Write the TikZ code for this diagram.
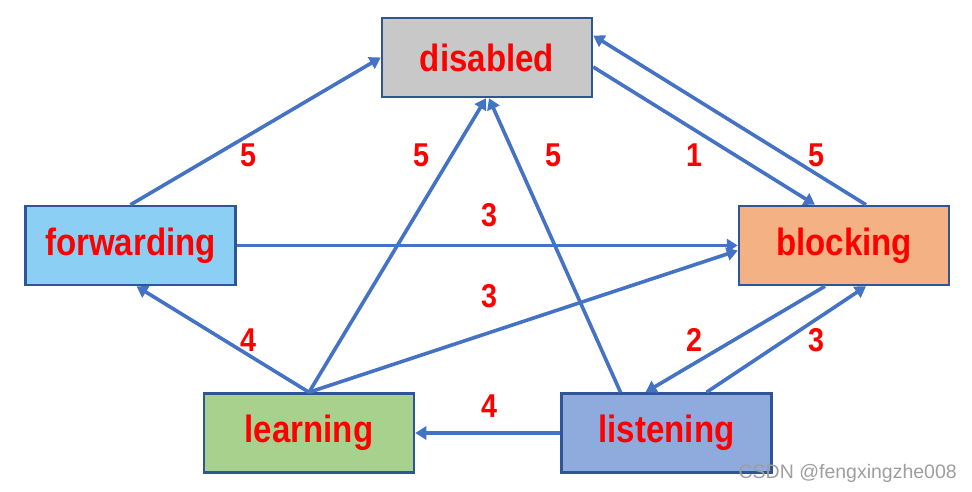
\documentclass[tikz,border=0pt]{standalone}
\usepackage{fontspec}
\setmainfont{Liberation Sans}
\usepackage{tikz}
\usetikzlibrary{arrows.meta}

\definecolor{boxline}{HTML}{2F5597}
\definecolor{arrowblue}{HTML}{4472C4}
\definecolor{disgray}{HTML}{C8C8C8}
\definecolor{fwdblue}{HTML}{8BD0F4}
\definecolor{blkorange}{HTML}{F4B183}
\definecolor{lrngreen}{HTML}{A9D18E}
\definecolor{lstblue}{HTML}{8FAADC}
\newcommand{\narrow}[1]{\scalebox{0.87}[1]{#1}}

\begin{document}
\begin{tikzpicture}[x=1pt,y=-1pt]
        \useasboundingbox (0,0) rectangle (972,492);
        \begin{scope}[every node/.style={draw=boxline,line width=2.5pt,minimum width=210pt,minimum height=79pt,text=red,font=\fontsize{38}{44}\selectfont\bfseries}]
            \node[fill=disgray] (dis) at (487,57.5) {\narrow{disabled}};
            \node[fill=fwdblue] (fwd) at (130.5,245.5) {\narrow{forwarding}};
            \node[fill=blkorange] (blk) at (844,245.5) {\narrow{blocking}};
            \node[fill=lrngreen] (lrn) at (309,433) {\narrow{learning}};
            \node[fill=lstblue] (lst) at (666.5,433) {\narrow{listening}};
        \end{scope}
        \begin{scope}[every node/.style={text=red,font=\fontsize{33}{38}\selectfont\bfseries}]
            \node (n1) at (248,155) {\narrow{5}};
            \node (n2) at (421,155) {\narrow{5}};
            \node (n3) at (553,155) {\narrow{5}};
            \node (n4) at (694,155) {\narrow{1}};
            \node (n5) at (816,155) {\narrow{5}};
            \node (n6) at (489,215) {\narrow{3}};
            \node (n7) at (489,296) {\narrow{3}};
            \node (n8) at (248,340) {\narrow{4}};
            \node (n9) at (694,340) {\narrow{2}};
            \node (n10) at (816,340) {\narrow{3}};
            \node (n11) at (489,406) {\narrow{4}};
        \end{scope}
        \begin{scope}[every edge/.style={draw=arrowblue,line width=3.6pt,-{Triangle[length=11pt,width=13pt]}}]
            \path ([yshift=-9.5pt]dis.east) edge ([xshift=-29pt]blk.north);
            \path ([xshift=22pt]blk.north) edge ([yshift=22pt]dis.east);
            \path (fwd.north) edge (dis.west);
            \path (fwd.east) edge (blk.west);
            \path (lrn.north) edge ([yshift=-5pt]blk.west);
            \path (lrn.north) edge ([xshift=6pt]fwd.south);
            \path (lrn.north) edge ([xshift=-1pt]dis.south);
            \path ([xshift=-46pt]lst.north) edge ([xshift=2pt]dis.south);
            \path (lst.west) edge (lrn.east);
            \path ([xshift=-19pt]blk.south) edge ([xshift=-21pt]lst.north);
            \path ([xshift=40pt]lst.north) edge ([xshift=22pt]blk.south);
        \end{scope}
        \node[text=black!38,font=\fontsize{19.5}{22}\selectfont,anchor=base east,inner sep=0pt] (mark) at (957,478) {CSDN @fengxingzhe008};
    \end{tikzpicture}
\end{document}
